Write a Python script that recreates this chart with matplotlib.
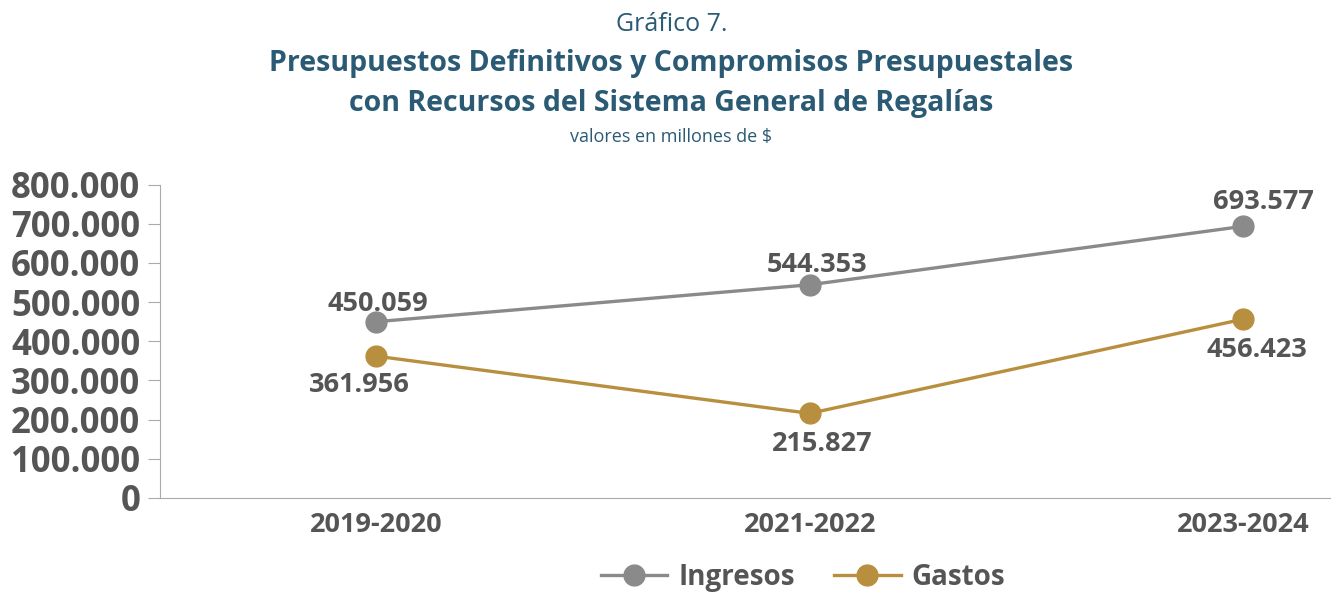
import matplotlib.pyplot as plt
from matplotlib.ticker import FuncFormatter

periodos = ["2019-2020", "2021-2022", "2023-2024"]
ingresos = [450059, 544353, 693577]
gastos = [361956, 215827, 456423]
yticks = [0, 100000, 200000, 300000, 400000, 500000, 600000, 700000, 800000]

col_ing = "#8a8a8a"
col_gas = "#b88f3e"
col_txt = "#555555"
col_tit = "#2a5a74"

plt.rcParams['font.family'] = ['Open Sans', 'DejaVu Sans']

fig = plt.figure(figsize=(13.43, 5.92), dpi=100)
ax = fig.add_axes([0.119, 0.159, 0.871, 0.529])

x = list(range(len(periodos)))
ax.plot(x, ingresos, color=col_ing, lw=2.4, marker="o", markersize=15, label="Ingresos")
ax.plot(x, gastos, color=col_gas, lw=2.4, marker="o", markersize=15, label="Gastos")

def miles(v, pos=None):
    return f"{int(round(v)):,}".replace(",", ".")

# etiquetas de valores
offs_ing = [(1, 13), (5, 14.5), (15, 17.5)]
offs_gas = [(-12, -21), (9, -22), (10, -22.5)]
for i, v in enumerate(ingresos):
    ax.annotate(miles(v), (x[i], v), xytext=offs_ing[i], textcoords="offset points",
                ha="center", va="center", fontsize=19.5, fontweight="bold", color=col_txt)
for i, v in enumerate(gastos):
    ax.annotate(miles(v), (x[i], v), xytext=offs_gas[i], textcoords="offset points",
                ha="center", va="center", fontsize=19.5, fontweight="bold", color=col_txt)

ax.set_ylim(0, 800000)
ax.set_xlim(-0.5, 2.2)
ax.set_yticks(yticks)
ax.yaxis.set_major_formatter(FuncFormatter(miles))
ax.set_xticks(x)
ax.set_xticklabels(periodos)
for lab in ax.get_yticklabels():
    lab.set_fontsize(25)
    lab.set_fontweight("bold")
    lab.set_color(col_txt)
for lab in ax.get_xticklabels():
    lab.set_fontsize(19.5)
    lab.set_fontweight("bold")
    lab.set_color(col_txt)
ax.tick_params(axis="y", length=9, color="#aaaaaa", pad=5)
ax.tick_params(axis="x", length=0, pad=10)
ax.spines["top"].set_visible(False)
ax.spines["right"].set_visible(False)
ax.spines["left"].set_color("#aaaaaa")
ax.spines["bottom"].set_color("#aaaaaa")

fig.text(0.5, 0.958, "Gráfico 7.", ha="center", va="center", fontsize=18, color=col_tit)
fig.text(0.5, 0.893, "Presupuestos Definitivos y Compromisos Presupuestales", ha="center",
         va="center", fontsize=20.5, fontweight="bold", color=col_tit)
fig.text(0.5, 0.826, "con Recursos del Sistema General de Regalías", ha="center",
         va="center", fontsize=20.5, fontweight="bold", color=col_tit)
fig.text(0.5, 0.769, "valores en millones de $", ha="center", va="center", fontsize=13,
         color=col_tit)

leg = fig.legend(loc="center", bbox_to_anchor=(0.598, 0.025), ncol=2, frameon=False,
                 prop={"size": 20, "weight": "bold"}, handlelength=2.4, columnspacing=1.4,
                 handletextpad=0.4)
for t in leg.get_texts():
    t.set_color(col_txt)

fig.savefig("out.png", dpi=100)
